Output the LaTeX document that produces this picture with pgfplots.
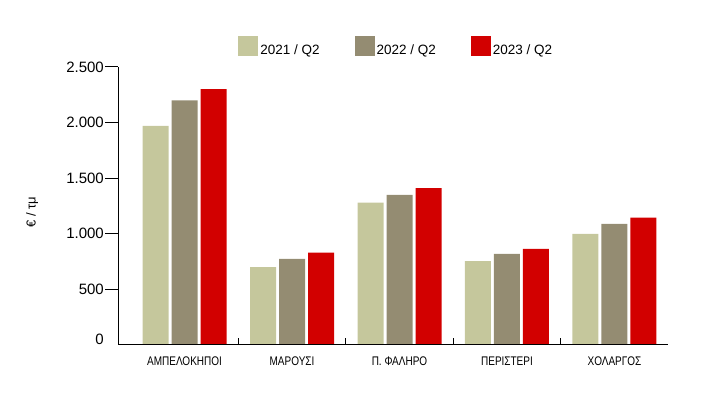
\documentclass[border=0pt]{standalone}
\usepackage{pgfplots}
\pgfplotsset{compat=1.18}
\usepackage{fontspec}
\setmainfont{Liberation Sans}
\newfontfamily\narrowfont[FakeStretch=0.8]{Liberation Sans}
\definecolor{cA}{RGB}{197,199,156}
\definecolor{cB}{RGB}{148,140,114}
\definecolor{cC}{RGB}{210,0,0}
\begin{document}
\begin{tikzpicture}[x=1pt,y=1pt]
\path[use as bounding box] (0,0) rectangle (701,393);
\begin{axis}[
  at={(118pt,48pt)}, anchor=south west,
  scale only axis, width=550pt, height=278pt,
  xmin=-0.619, xmax=4.498, ymin=0, ymax=2500,
  axis lines*=left,
  axis line style={black, line width=1pt},
  ybar=3pt, bar width=26pt,
  tick align=inside,
  xtick=\empty,
  ytick={500,1000,1500,2000,2500},
  yticklabels={500,1.000,1.500,2.000,2.500},
  extra y ticks={0},
  extra y tick labels={0},
  extra y tick style={major tick length=0pt, y tick style={draw=none}, yticklabel style={yshift=6pt}},
  major tick length=13pt,
  y tick style={black, line width=1pt, xshift=-13pt},
  yticklabel style={inner sep=0pt, anchor=east, xshift=-14pt, font=\fontsize{15}{18}\selectfont},
  ylabel={€ / τμ},
  ylabel style={at={(axis description cs:-0.156,0.478)}, anchor=center, font=\fontsize{13}{16}\selectfont},
  legend style={at={(0.506,1.072)}, anchor=center, draw=none, fill=none,
    legend columns=3, font=\fontsize{13.5}{16}\selectfont,
    /tikz/every even column/.append style={column sep=33pt}},
  legend image code/.code={\fill[#1] (0pt,-5.5pt) rectangle (20pt,14.5pt);},
]
\addplot[fill=cA, draw=none] coordinates {(0,1970) (1,700) (2,1280) (3,755) (4,1000)};
\addplot[fill=cB, draw=none] coordinates {(0,2200) (1,775) (2,1350) (3,820) (4,1090)};
\addplot[fill=cC, draw=none] coordinates {(0,2300) (1,830) (2,1410) (3,865) (4,1145)};
\legend{2021 / Q2, 2022 / Q2, 2023 / Q2}
\end{axis}
\begin{axis}[
  at={(118pt,48pt)}, anchor=south west,
  scale only axis, width=550pt, height=278pt,
  xmin=-0.619, xmax=4.498, ymin=0, ymax=2500,
  axis x line*=bottom, axis y line=none,
  axis line style={black, line width=1pt},
  ytick=\empty,
  tick align=inside, major tick length=7pt,
  xtick={0.5,1.5,2.5,3.5,4.5},
  xticklabels={},
  x tick style={black, line width=1pt},
  extra x ticks={0,1,2,3,4},
  extra x tick labels={ΑΜΠΕΛΟΚΗΠΟΙ,ΜΑΡΟΥΣΙ,Π. ΦΑΛΗΡΟ,ΠΕΡΙΣΤΕΡΙ,ΧΟΛΑΡΓΟΣ},
  extra x tick style={major tick length=0pt},
  xticklabel style={inner sep=0pt, anchor=north, yshift=-12pt, font=\narrowfont\fontsize{12.5}{14}\selectfont},
]
\end{axis}
\end{tikzpicture}
\end{document}
